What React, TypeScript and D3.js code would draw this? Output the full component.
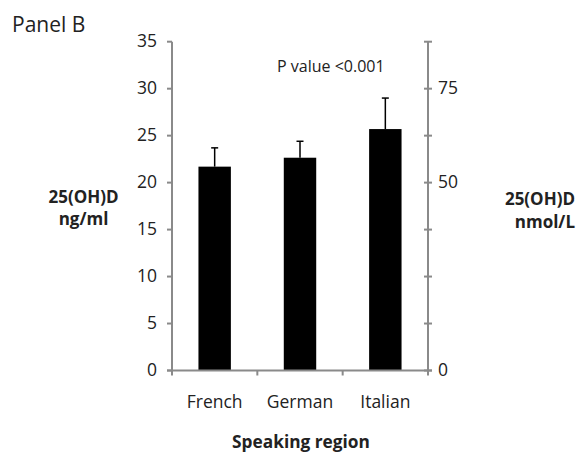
import React from "react";
import * as d3 from "d3";

// Mean 25(OH)D (ng/ml) by speaking region, with upper error
const regions = ["French", "German", "Italian"];
const means = [21.7, 22.65, 25.7];
const errors = [2.0, 1.75, 3.3];

const leftTicks = [0, 5, 10, 15, 20, 25, 30, 35];
const rightTicks = [0, 12.5, 25, 37.5, 50, 62.5, 75, 87.5];
const rightLabels = [0, 50, 75];
const NMOL_PER_NG = 2.5;

const FONT = "'Open Sans', 'DejaVu Sans', sans-serif";
const AXIS = "#8a8a8a";

export default function App() {
  const width = 582;
  const height = 452;
  const x0 = 172;
  const x1 = 428;
  const yTop = 41.7;
  const yBottom = 370.5;

  const y = d3.scaleLinear().domain([0, 35]).range([yBottom, yTop]);
  const yR = d3.scaleLinear().domain([0, 35 * NMOL_PER_NG]).range([yBottom, yTop]);
  const x = d3
    .scaleBand<string>()
    .domain(regions)
    .range([x0, x1])
    .paddingInner(0.62)
    .paddingOuter(0.31);
  const step = x.step();

  return (
    <svg
      width={width}
      height={height}
      style={{ position: "absolute", left: 0, top: 0, background: "#fff" }}
      fontFamily={FONT}
    >
      <text x={12} y={32} fontSize={21} fill="#222">
        Panel B
      </text>

      {/* bars */}
      {regions.map((r, i) => (
        <rect
          key={r}
          x={x(r)}
          y={y(means[i])}
          width={x.bandwidth()}
          height={yBottom - y(means[i])}
          fill="#000"
        />
      ))}

      {/* error bars (upper only) */}
      {regions.map((r, i) => {
        const cx = (x(r) ?? 0) + x.bandwidth() / 2;
        const top = y(means[i] + errors[i]);
        return (
          <g key={r} stroke="#000" strokeWidth={1.5}>
            <line x1={cx} x2={cx} y1={y(means[i])} y2={top} />
            <line x1={cx - 3.5} x2={cx + 3.5} y1={top} y2={top} />
          </g>
        );
      })}

      {/* left axis */}
      <line x1={x0} x2={x0} y1={yTop} y2={yBottom} stroke={AXIS} strokeWidth={2} />
      {leftTicks.map((t) => (
        <g key={t}>
          <line x1={x0 - 5} x2={x0} y1={y(t)} y2={y(t)} stroke={AXIS} strokeWidth={2} />
          <text
            x={x0 - 15}
            y={y(t) + 1}
            fontSize={17.5}
            textAnchor="end"
            dominantBaseline="middle"
            fill="#222"
          >
            {t}
          </text>
        </g>
      ))}

      {/* right axis */}
      <line x1={x1} x2={x1} y1={yTop} y2={yBottom} stroke={AXIS} strokeWidth={2} />
      {rightTicks.map((t) => (
        <line
          key={t}
          x1={x1 - 4}
          x2={x1 + 4}
          y1={yR(t)}
          y2={yR(t)}
          stroke={AXIS}
          strokeWidth={2}
        />
      ))}
      {rightLabels.map((t) => (
        <text
          key={t}
          x={x1 + 10}
          y={yR(t) + 1}
          fontSize={17.5}
          dominantBaseline="middle"
          fill="#222"
        >
          {t}
        </text>
      ))}

      {/* x axis */}
      <line x1={x0 - 5} x2={x1 + 4} y1={yBottom} y2={yBottom} stroke={AXIS} strokeWidth={2} />
      {d3.range(regions.length + 1).map((k) => (
        <line
          key={k}
          x1={x0 + k * step}
          x2={x0 + k * step}
          y1={yBottom}
          y2={yBottom + 5}
          stroke={AXIS}
          strokeWidth={2}
        />
      ))}
      {regions.map((r) => (
        <text
          key={r}
          x={(x(r) ?? 0) + x.bandwidth() / 2}
          y={408}
          fontSize={17.5}
          textAnchor="middle"
          fill="#222"
        >
          {r}
        </text>
      ))}

      <text x={301} y={448} fontSize={17.3} fontWeight="bold" textAnchor="middle" fill="#222">
        Speaking region
      </text>

      <text x={277} y={72} fontSize={16} fill="#222">
        P value &lt;0.001
      </text>

      {/* axis titles */}
      <text fontSize={17} fontWeight="bold" textAnchor="middle" fill="#222">
        <tspan x={83.5} y={203}>25(OH)D</tspan>
        <tspan x={83.5} y={225}>ng/ml</tspan>
      </text>
      <text fontSize={17} fontWeight="bold" textAnchor="end" fill="#222">
        <tspan x={575} y={205}>25(OH)D</tspan>
        <tspan x={575} y={228}>nmol/L</tspan>
      </text>
    </svg>
  );
}
